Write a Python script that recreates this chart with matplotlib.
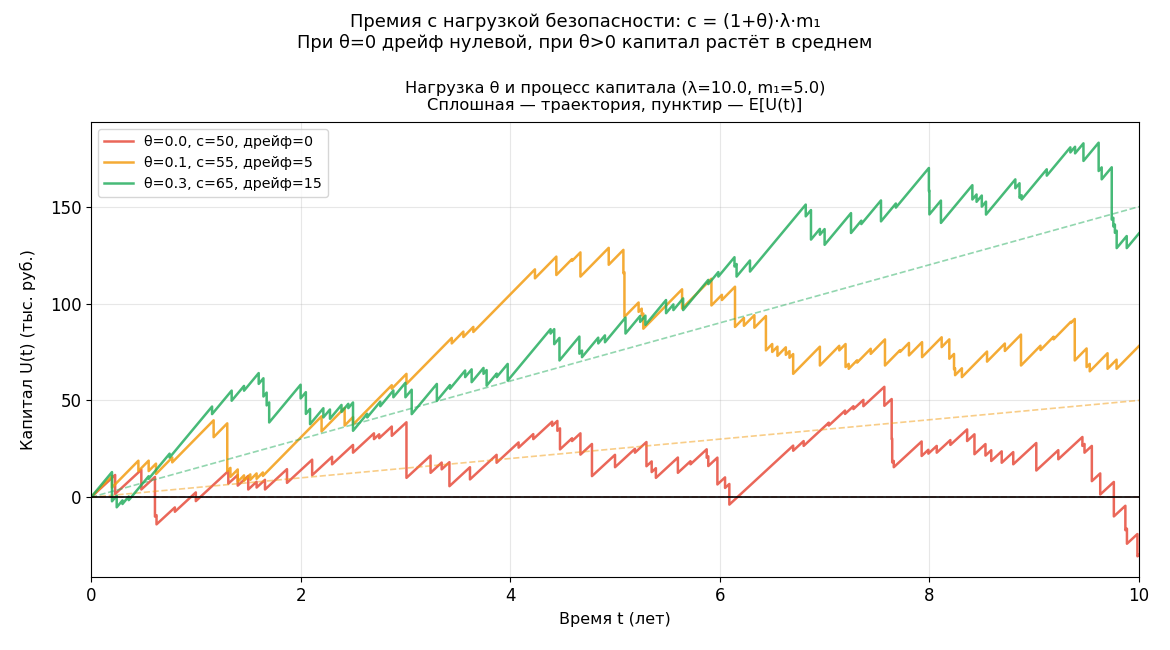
import numpy as np
import matplotlib
matplotlib.use("Agg")
import matplotlib.pyplot as plt

# model parameters (from the title)
lam = 10.0
m1 = 5.0
thetas = [0.0, 0.1, 0.3]
premiums = [50, 55, 65]
drifts = [0, 5, 15]
seriesColors = ["#e74c3c", "#f39c12", "#27ae60"]
tMax = 10.0

# claim times and capital level right after each claim
redTimes = [0.23, 0.48, 0.61, 0.625, 0.80, 1.00, 1.31, 1.40, 1.50, 1.58, 1.66, 1.87, 2.11, 2.30, 2.50,
            2.70, 2.75, 2.87, 3.01, 3.24, 3.346, 3.42, 3.616, 3.87, 4.08, 4.22, 4.40, 4.45, 4.475, 4.59,
            4.67, 4.78, 5.00, 5.19, 5.30, 5.35, 5.39, 5.60, 5.72, 5.875, 5.89, 5.977, 6.05, 6.091, 6.70,
            6.80, 7.04, 7.195, 7.275, 7.37, 7.57, 7.64, 7.645, 7.66, 7.926, 7.99, 8.07, 8.20, 8.36, 8.43,
            8.535, 8.59, 8.69, 8.80, 9.02, 9.23, 9.46, 9.48, 9.55, 9.63, 9.76, 9.87, 9.885, 9.985]
redLevels = [1.7, 4.0, -10, -14, -7.5, -2, 7, 6, 4, 5, 4, 7.4, 11.4, 17, 23,
             30, 30.5, 31.7, 10, 12.6, 14.4, 5.7, 9.2, 17.8, 25.6, 30, 36.9, 34.3, 24.7, 29,
             22, 10.9, 15.5, 23, 16, 13, 10, 12.6, 17, 20.4, 16.1, 6.6, 4.8, -3.8, 24,
             26.5, 37, 43, 45.5, 47, 47.2, 30, 18, 15.5, 21.3, 22.5, 23, 27, 29, 22.2,
             21.5, 18.7, 17.8, 17, 13.8, 19.6, 26.5, 23, 8.3, 1.4, -9.9, -17, -24, -30.5]

orangeTimes = [0.20, 0.452, 0.55, 0.62, 0.775, 1.17, 1.30, 1.33, 1.40, 1.46, 1.52, 1.58, 1.64, 2.20, 2.42,
               2.50, 2.87, 3.01, 3.442, 3.553, 3.648, 4.236, 4.44, 4.59, 4.67, 4.94, 5.08, 5.09, 5.225, 5.255,
               5.27, 5.64, 5.92, 6.02, 6.145, 6.23, 6.33, 6.44, 6.50, 6.55, 6.63, 6.665, 6.70, 6.955, 7.14,
               7.20, 7.23, 7.31, 7.44, 7.576, 7.72, 7.805, 7.93, 8.117, 8.19, 8.235, 8.245, 8.31, 8.55, 8.72,
               8.874, 9.06, 9.185, 9.35, 9.387, 9.50, 9.53, 9.70, 9.786]
orangeLevels = [5, 13.5, 13.5, 12, 18, 31, 13.5, 10.5, 8, 8.5, 9, 9.5, 11, 34, 37,
                37.5, 56, 58.5, 79.4, 82.7, 85.3, 113, 114.7, 122, 113.9, 120, 115.6, 93.1, 95.7, 94,
                87, 97.4, 99, 101.8, 87.9, 88.5, 87.5, 75.8, 75, 73, 73.5, 72, 63.7, 68, 75.8,
                67.2, 66.3, 69.5, 74, 68, 75, 73.2, 72.3, 77.5, 71.5, 66, 63, 62, 70, 75.5,
                68, 76, 81.5, 90, 70.6, 67.2, 65, 66.3, 66.3]

greenTimes = [0.20, 0.245, 0.30, 0.36, 0.55, 0.75, 1.155, 1.342, 1.46, 1.60, 1.645, 1.676, 1.70, 2.00, 2.05,
              2.09, 2.217, 2.28, 2.39, 2.455, 2.50, 2.635, 2.76, 2.885, 3.00, 3.06, 3.30, 3.425, 3.57, 3.632,
              3.745, 3.775, 3.871, 3.976, 4.385, 4.42, 4.47, 4.66, 4.685, 4.84, 4.904, 5.10, 5.24, 5.29, 5.487,
              5.557, 5.65, 5.89, 5.986, 6.14, 6.16, 6.288, 6.82, 6.87, 6.955, 7.00, 7.252, 7.35, 7.538, 7.68,
              7.995, 8.00, 8.11, 8.41, 8.45, 8.50, 8.54, 8.82, 8.86, 8.88, 9.12, 9.345, 9.39, 9.47, 9.615,
              9.644, 9.74, 9.755, 9.77, 9.787, 9.883]
greenLevels = [-2.1, -5.2, -3.5, -1.5, 9.5, 20.5, 42.9, 49.8, 55, 58.5, 52, 47.4, 38.6, 51, 43,
               37.7, 41.2, 40.5, 44, 46, 34.3, 41.2, 47, 51.6, 51.6, 42.9, 49.8, 56, 62, 59.4,
               63.7, 57.6, 62, 60.2, 84.5, 79, 70.6, 74.1, 72.3, 79.4, 80, 84.5, 90.5, 89, 95,
               96.6, 96.6, 110, 113.9, 119.1, 113.9, 116.5, 145, 133, 135.5, 130.3, 136.4, 141, 142.4, 149.5,
               158, 146, 141.6, 153.7, 152.5, 150, 145.9, 159.5, 154.6, 153.7, 166, 178, 177.5, 173.6, 168.4,
               164.1, 143.3, 139.8, 136.5, 128.6, 128.6]


def pathFromClaims(times, levels, c, u0=0.0):
    # capital grows with slope c between claims and drops at each claim
    xs = [0.0]
    ys = [u0]
    tPrev, uPrev = 0.0, u0
    for t, after in zip(times, levels):
        xs += [t, t]
        ys += [uPrev + c * (t - tPrev), after]
        tPrev, uPrev = t, after
    xs.append(tMax)
    ys.append(uPrev + c * (tMax - tPrev))
    return np.array(xs), np.array(ys)


allTimes = [redTimes, orangeTimes, greenTimes]
allLevels = [redLevels, orangeLevels, greenLevels]

fig = plt.figure(figsize=(11.7, 6.5), dpi=100)
ax = fig.add_axes([0.0778, 0.1123, 0.8957, 0.7000])

for theta, c, drift, colour, times, levels in zip(thetas, premiums, drifts, seriesColors, allTimes, allLevels):
    xs, ys = pathFromClaims(times, levels, c)
    ax.plot(xs, ys, color=colour, alpha=0.85, linewidth=1.8,
            label=f"θ={theta}, c={c}, дрейф={drift}")
    ax.plot([0, tMax], [0, drift * tMax], color=colour, alpha=0.5, linewidth=1.2, linestyle="--")

ax.axhline(0, color="black", linewidth=1.2)
ax.set_xlim(0, tMax)
ax.set_yticks([0, 50, 100, 150])
ax.grid(True, alpha=0.3)
ax.tick_params(labelsize=12)
ax.set_xlabel("Время t (лет)", fontsize=11.5, labelpad=5)
ax.set_ylabel("Капитал U(t) (тыс. руб.)", fontsize=11.5, labelpad=10)
ax.set_title(f"Нагрузка θ и процесс капитала (λ={lam}, m₁={m1})\nСплошная — траектория, пунктир — E[U(t)]",
             fontsize=11.7, linespacing=1.1, pad=9)
ax.legend(loc="upper left", fontsize=10.3)

fig.suptitle("Премия с нагрузкой безопасности: c = (1+θ)·λ·m₁\nПри θ=0 дрейф нулевой, при θ>0 капитал растёт в среднем",
             fontsize=12.9, y=0.98)

fig.savefig("out.png", dpi=100)
